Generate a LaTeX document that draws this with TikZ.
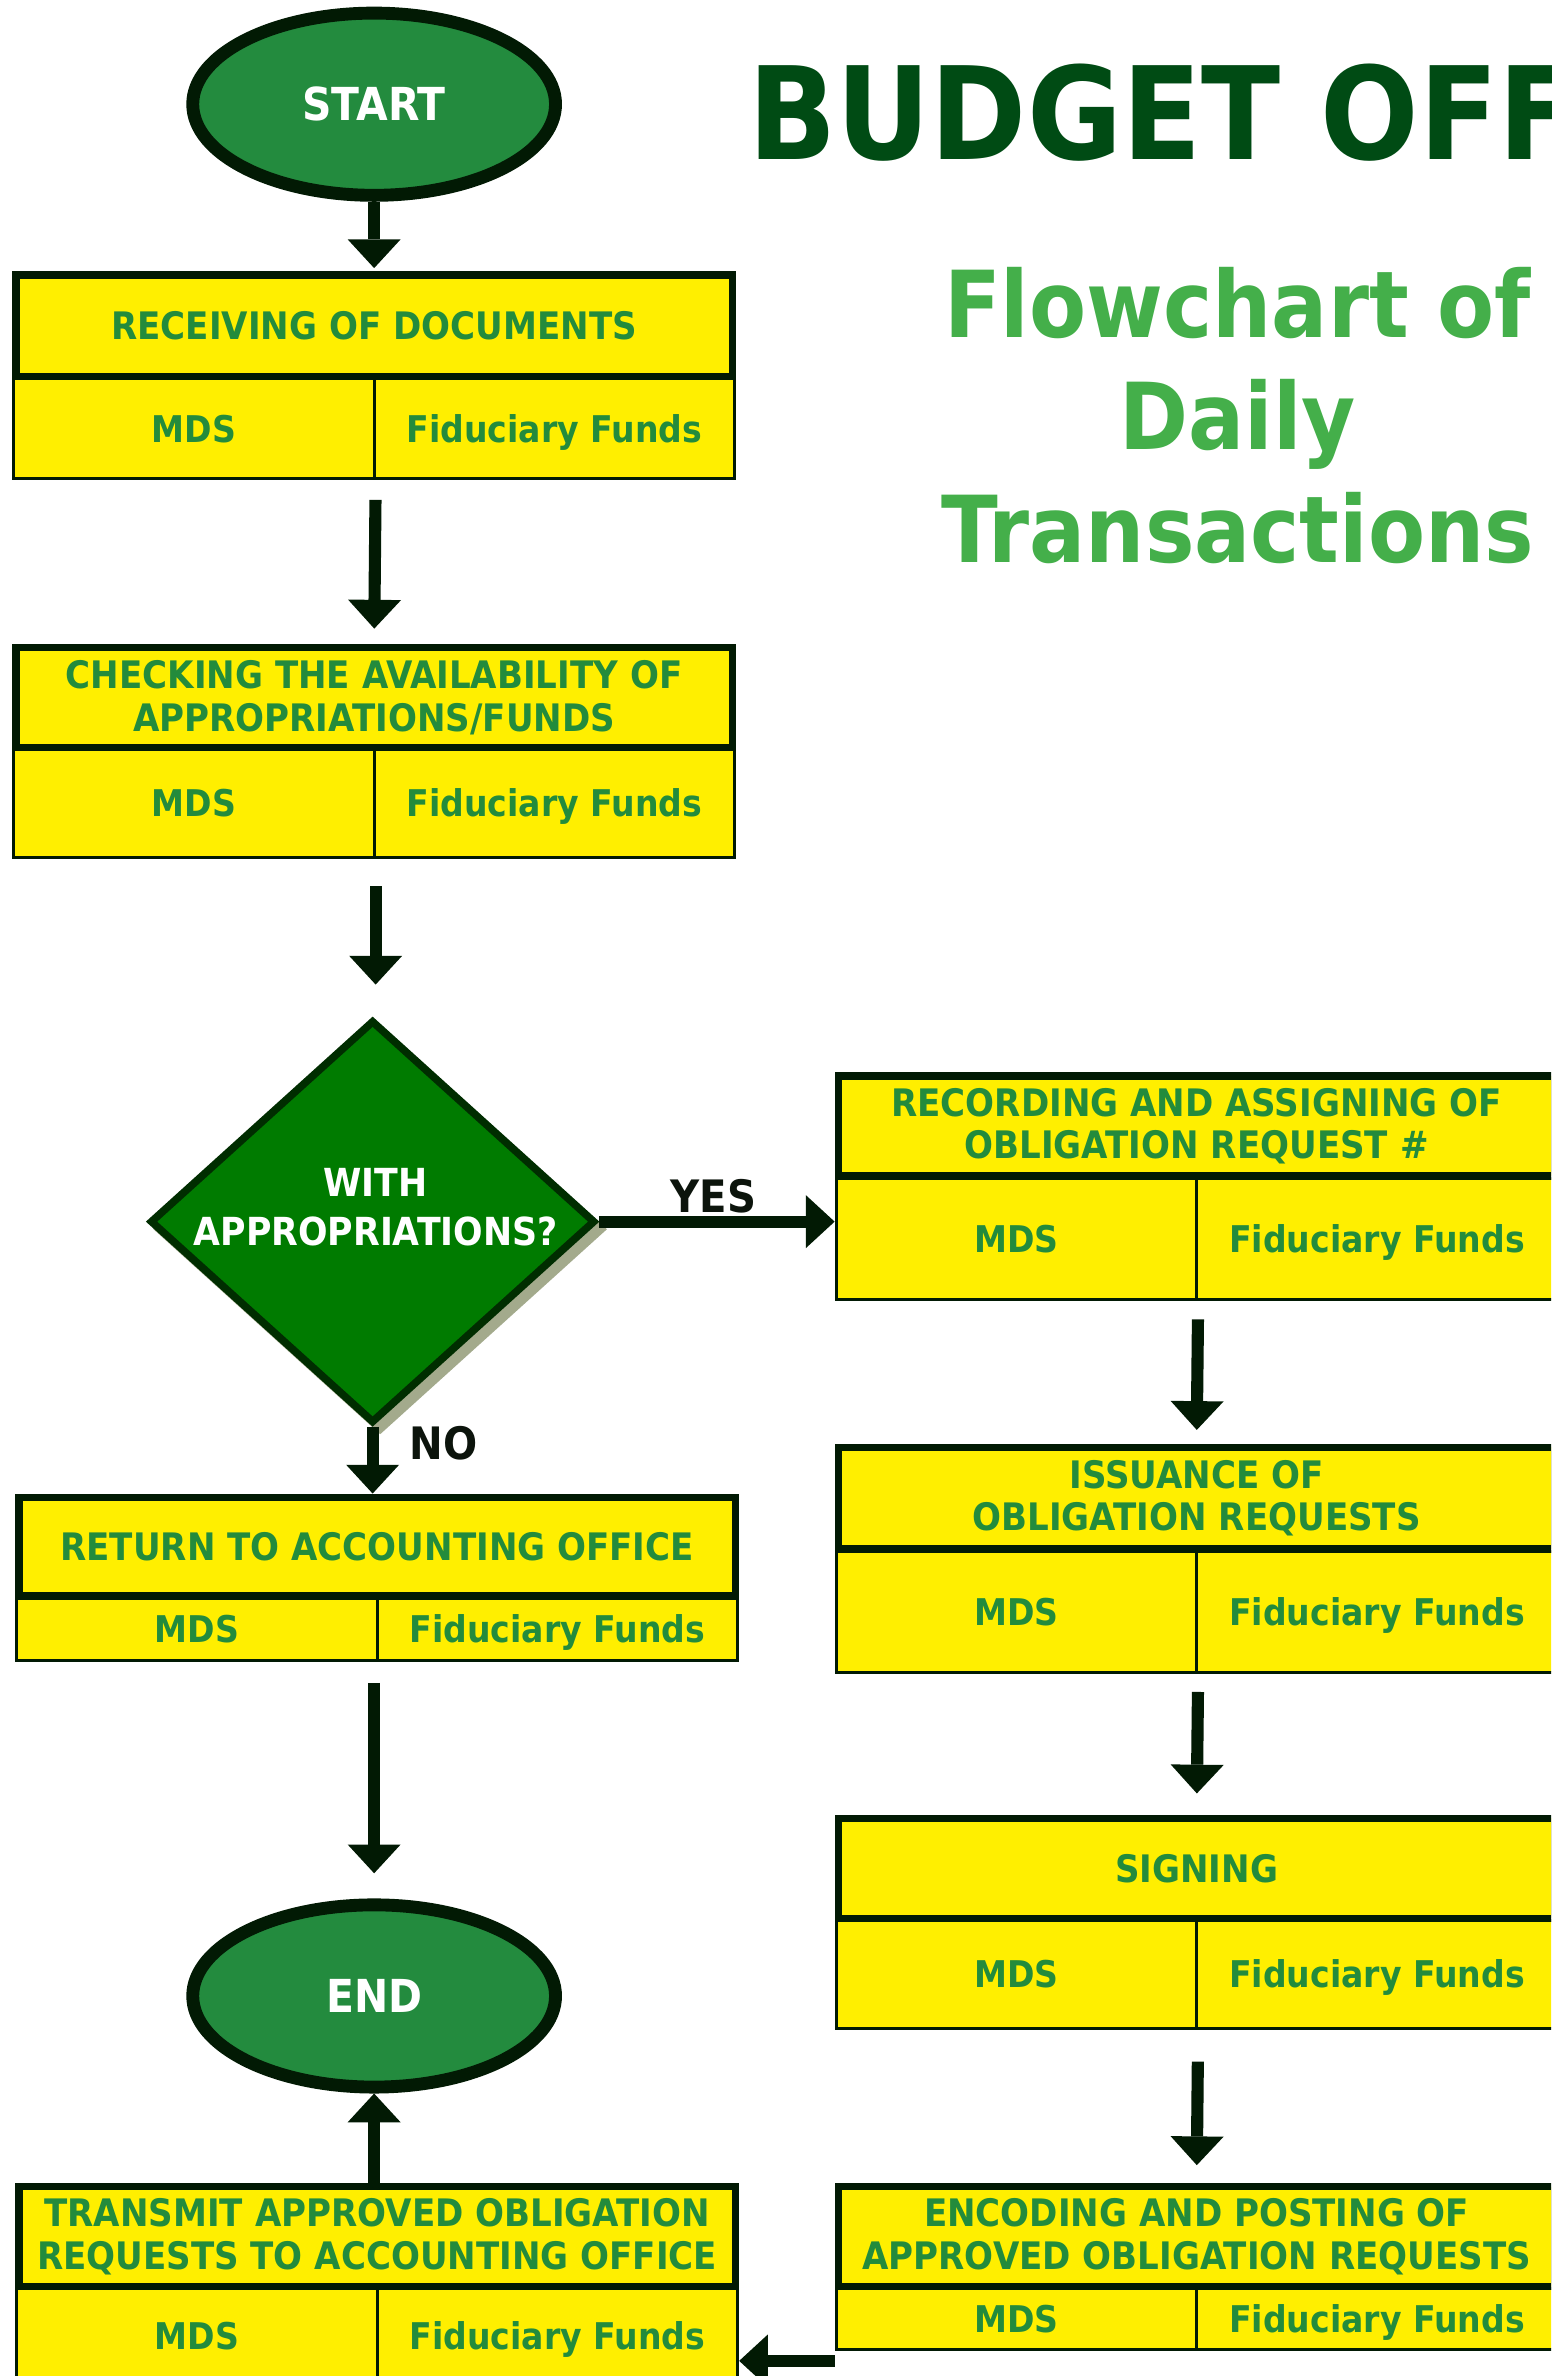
\documentclass[tikz,border=0pt]{standalone}
\usepackage{fontspec}
\setmainfont{DejaVu Sans}[FakeStretch=0.9]
\usetikzlibrary{shapes.geometric,arrows.meta}

\definecolor{edge}{RGB}{2,26,4}
\definecolor{boxfill}{RGB}{255,239,0}
\definecolor{boxtext}{RGB}{35,139,60}
\definecolor{termfill}{RGB}{35,139,62}
\definecolor{diafill}{RGB}{0,123,0}
\definecolor{diaedge}{RGB}{0,45,0}
\definecolor{diashade}{RGB}{163,170,140}
\definecolor{titlegreen}{RGB}{0,75,20}
\definecolor{subgreen}{RGB}{68,175,74}
\definecolor{labelc}{RGB}{12,20,12}

\newcommand\txBox{\fontsize{25}{28}\selectfont\bfseries}
\newcommand\txCell{\fontsize{24.3}{28}\selectfont\bfseries}
\newcommand\txTerm{\fontsize{30}{34}\selectfont\bfseries}
\newcommand\txDia{\fontsize{25.5}{32}\selectfont\bfseries}
\newcommand\txLab{\fontsize{29.5}{33}\selectfont\bfseries}
\newcommand\txTitle{\fontsize{85}{90}\selectfont\bfseries}
\newcommand\txSub{\fontsize{61}{74}\selectfont\bfseries}

\tikzset{
  head/.style={rectangle, draw=edge, line width=5pt, fill=boxfill, inner sep=0pt,
    text=boxtext, font=\txBox, align=center},
  cell/.style={rectangle, draw=edge, line width=2pt, fill=boxfill, inner sep=0pt,
    text=boxtext, font=\txCell, text height=17.7pt, text depth=0pt},
  oneline/.style={text height=18.2pt, text depth=0pt},
  % balances the descender of the second line so the caps sit centred
  twoline/.style={execute at begin node={\rule{0pt}{22.5pt}}},
  term/.style={ellipse, draw=edge, line width=8.5pt, fill=termfill, text=white,
    font=\txTerm, minimum width=239.5pt, minimum height=120.3pt, inner sep=0pt,
    text height=21.9pt, text depth=0pt},
  decision/.style={diamond, line width=5pt, minimum width=294pt,
    minimum height=266pt, inner sep=0pt},
  diatext/.style={text=white, font=\txDia, align=center, inner sep=0pt},
  lab/.style={text=labelc, font=\txLab, inner sep=0pt, text height=21.5pt, text depth=0pt},
  arr/.style={draw=edge, line width=8pt,
    -{Triangle[width=35pt,length=19pt,line width=0pt]}},
}

% #1 name, #2 left, #3 right, #4 top, #5 split, #6 bottom, #7 extra heading style, #8 heading
\newcommand{\flowbox}[8]{%
  \pgfmathsetmacro\fbMid{(#2+#3)/2}%
  \pgfmathsetmacro\fbCw{(#3-#2)/2-1}%
  \pgfmathsetmacro\fbLx{(#2+1+\fbMid)/2}%
  \pgfmathsetmacro\fbRx{(\fbMid+#3-1)/2}%
  \pgfmathsetmacro\fbCy{(#5+#6)/2-1}%
  \pgfmathsetmacro\fbCh{#6-#5}%
  \pgfmathsetmacro\fbHy{(#4+#5)/2}%
  \pgfmathsetmacro\fbHw{#3-#2-5}%
  \pgfmathsetmacro\fbHh{#5-#4-5}%
  \node[cell, minimum width=\fbCw pt, minimum height=\fbCh pt] (#1-l) at (\fbLx,\fbCy) {MDS};
  \node[cell, minimum width=\fbCw pt, minimum height=\fbCh pt] (#1-r) at (\fbRx,\fbCy) {Fiduciary Funds};
  \node[head, #7, minimum width=\fbHw pt, minimum height=\fbHh pt] (#1) at (\fbMid,\fbHy) {#8};
}

\begin{document}
\begin{tikzpicture}[x=1pt,y=-1pt]
  \useasboundingbox (0,0) rectangle (1024,1568.6);
  \fill[white] (0,0) rectangle (1024,1568.6);
  \clip (0,0) rectangle (1024,1568.6);

  % heading
  \node[anchor=base west, inner sep=0pt, text=titlegreen, font=\txTitle] (title) at (494,105.5) {BUDGET OFF};
  \node[anchor=base, inner sep=0pt, text=subgreen, font=\txSub] (sub1) at (817,223) {Flowchart of};
  \node[anchor=base, inner sep=0pt, text=subgreen, font=\txSub] (sub2) at (817,297) {Daily};
  \node[anchor=base, inner sep=0pt, text=subgreen, font=\txSub] (sub3) at (817,371.5) {Transactions};

  % terminals
  \node[term] (start) at (247,68.8) {START};
  \node[term] (end) at (247,1317.7) {END};

  % process boxes
  \flowbox{b1}{8}{486}{179}{251}{317}{oneline}{RECEIVING OF DOCUMENTS}
  \flowbox{b2}{8}{486}{425}{496}{567}{twoline}{CHECKING THE AVAILABILITY OF\\APPROPRIATIONS/FUNDS}
  \flowbox{b3}{10}{488}{986}{1056}{1097}{oneline}{RETURN TO ACCOUNTING OFFICE}
  \flowbox{b4}{10}{488}{1441}{1512}{1575}{twoline}{TRANSMIT APPROVED OBLIGATION\\REQUESTS TO ACCOUNTING OFFICE}
  \flowbox{r1}{551}{1029}{708}{779}{859}{twoline}{RECORDING AND ASSIGNING OF\\OBLIGATION REQUEST \#}
  \flowbox{r2}{551}{1029}{953}{1025}{1105}{twoline}{ISSUANCE OF\\OBLIGATION REQUESTS}
  \flowbox{r3}{551}{1029}{1198}{1269}{1340}{oneline}{SIGNING}
  \flowbox{r4}{551}{1029}{1441}{1512}{1552}{twoline}{ENCODING AND POSTING OF\\APPROVED OBLIGATION REQUESTS}

  % decision with its drop shadow
  \node[decision, fill=diashade, draw=diashade] (diashadow) at (251,811.5) {};
  \node[decision, fill=diafill, draw=diaedge] (dia) at (246,806.5) {};
  \node[diatext] (diatxt) at (248,797) {WITH\\APPROPRIATIONS?};

  % connectors
  \draw[arr, shorten >=2pt] (start.south) -- (b1.north);
  \draw[arr, shorten <=13pt, shorten >=10pt] (b1-l.south east) -- (b2.north);
  \draw[arr, shorten <=18pt, shorten >=21pt] (b2-l.south east) -- (b2-l.south east |- dia.north);
  \draw[arr] (dia.east) -- (dia.east -| r1-l.west);
  \draw[arr] (dia.south) -- (dia.south |- b3.north);
  \draw[arr, shorten <=14pt, shorten >=16.6pt] (end.north |- b3-l.south) -- (end.north);
  \draw[arr] (end.south |- b4.north) -- (end.south);
  \draw[arr, shorten <=12pt, shorten >=9pt] (r1-l.south east) -- (r2.north);
  \draw[arr, shorten <=12pt, shorten >=14pt] (r2-l.south east) -- (r3.north);
  \draw[arr, shorten <=21pt, shorten >=11.6pt] (r3-l.south east) -- (r4.north);
  \coordinate (r4out) at (551,1558.6);
  \draw[arr] (r4out) -- (r4out -| b4-r.east);

  % branch labels
  \node[lab] (yes) at (471,790) {YES};
  \node[lab] (no) at (293,952.5) {NO};
\end{tikzpicture}
\end{document}
